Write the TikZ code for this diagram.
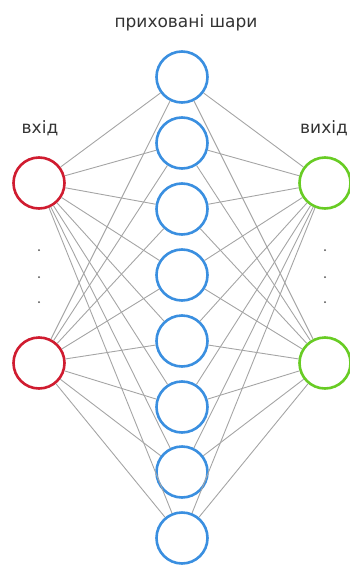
\documentclass[tikz,border=0pt]{standalone}
\usepackage{fontspec}
\setmainfont{DejaVu Sans}
\begin{document}
\begin{tikzpicture}[x=1pt,y=-1pt,
  neuron/.style={circle,draw,line width=2.6pt,minimum size=51pt,inner sep=0pt,fill=white},
  inn/.style={neuron,draw={rgb,255:red,208;green,28;blue,48}},
  hid/.style={neuron,draw={rgb,255:red,58;green,143;blue,224}},
  outn/.style={neuron,draw={rgb,255:red,104;green,204;blue,36}},
  link/.style={draw={rgb,255:red,165;green,165;blue,165},line width=0.9pt},
  lbl/.style={font=\fontsize{17}{20}\selectfont,text=black!80},
  dotn/.style={circle,fill=black!70,inner sep=0pt,minimum size=2pt}]
\useasboundingbox (0,0) rectangle (349,565);
\foreach \i/\y in {1/77,2/143,3/209,4/275,5/341,6/407,7/472,8/538}
  \node[hid] (h\i) at (182,\y) {};
\node[inn] (i1) at (39,183) {};
\node[inn] (i2) at (39,363) {};
\node[outn] (o1) at (325,183) {};
\node[outn] (o2) at (325,363) {};
\node[lbl] (t1) at (186,23) {приховані шари};
\node[lbl] (t2) at (40,128) {вхід};
\node[lbl,anchor=east,inner xsep=1pt] (t3) at (349,128) {вихід};
\foreach \y [count=\k] in {250,277,302} {
  \node[dotn] (dl\k) at (39,\y) {};
  \node[dotn] (dr\k) at (325,\y) {};
}
\foreach \i in {1,2} \foreach \h in {1,...,8} {
  \path[link] (i\i) -- (h\h);
  \path[link] (h\h) -- (o\i);
}
\end{tikzpicture}
\end{document}
